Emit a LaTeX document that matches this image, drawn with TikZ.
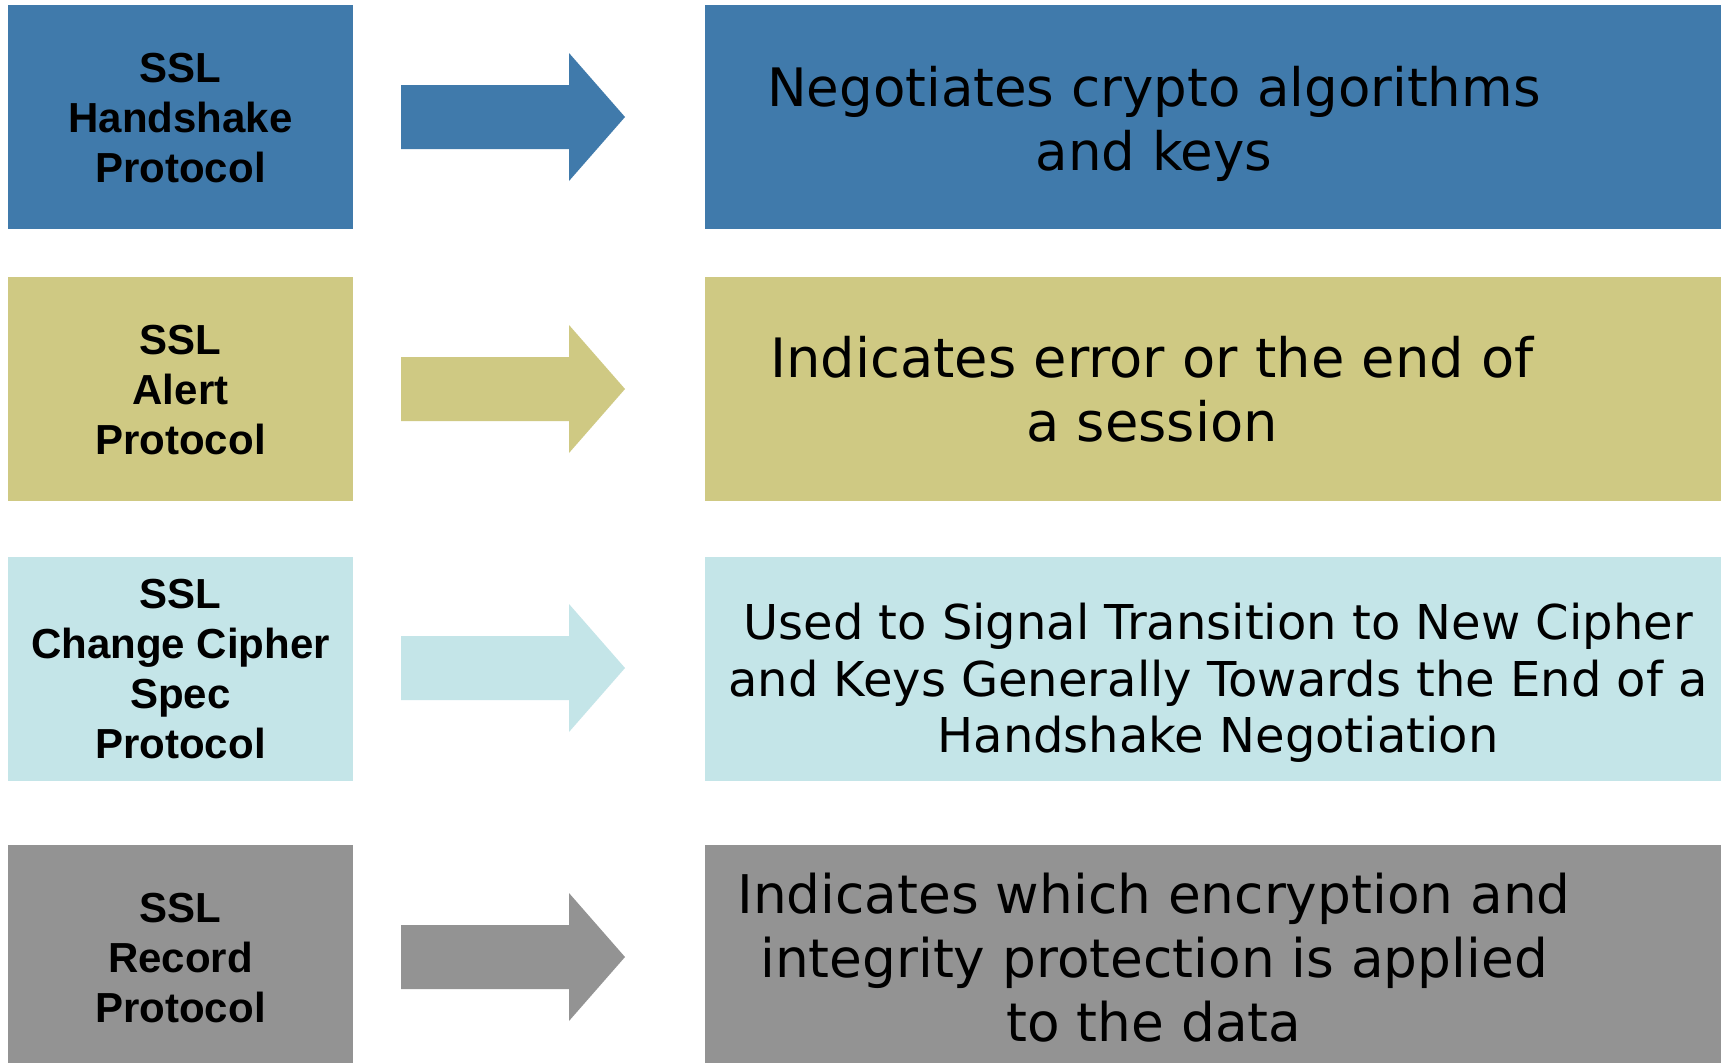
\documentclass[tikz,border=0pt]{standalone}
\usepackage{fontspec}
\newfontfamily\protofont{Liberation Sans}
\newfontfamily\descfont{DejaVu Sans}

\definecolor{hsblue}{RGB}{64,122,171}
\definecolor{alertolive}{RGB}{207,201,131}
\definecolor{ccscyan}{RGB}{196,229,232}
\definecolor{recgray}{RGB}{147,147,147}

\tikzset{
  protobox/.style={fill=#1, draw=none, inner sep=0pt, outer sep=0pt,
    minimum width=345pt, minimum height=224pt},
  descbox/.style={fill=#1, draw=none, inner sep=0pt, outer sep=0pt,
    minimum width=1016pt, minimum height=224pt},
  prototext/.style={font=\protofont\bfseries\fontsize{42}{50}\selectfont,
    align=center, inner sep=0pt},
  desctext/.style 2 args={font=\descfont\fontsize{#1}{#2}\selectfont,
    align=center, inner sep=0pt},
  % wide block arrow pointing right, anchored at the middle of its tail
  blockarrow/.pic={
    \fill (0,-32) -- (168,-32) -- (168,-64) -- (224,0) -- (168,64)
          -- (168,32) -- (0,32) -- cycle;
  }
}

\begin{document}
\begin{tikzpicture}[x=1pt,y=-1pt]
\useasboundingbox[fill=white] (0,0) rectangle (1727,1063);

% Handshake
\node[protobox=hsblue] (hsbox) at (180.5,117) {};
\node[prototext] (hslabel) at (180.5,118) {SSL\\Handshake\\Protocol};
\pic[fill=hsblue] (hsarrow) at (401,117) {blockarrow};
\node[descbox=hsblue] (hsdescbox) at (1213,117) {};
\node[desctext={53}{64}] (hsdesc) at (1154,124)
  {Negotiates crypto algorithms\\and keys};

% Alert
\node[protobox=alertolive] (albox) at (180.5,389) {};
\node[prototext] (allabel) at (180.5,390) {SSL\\Alert\\Protocol};
\pic[fill=alertolive] (alarrow) at (401,389) {blockarrow};
\node[descbox=alertolive] (aldescbox) at (1213,389) {};
\node[desctext={54.3}{64}] (aldesc) at (1152,389.5)
  {Indicates error or the end of\\a session};

% Change Cipher Spec
\node[protobox=ccscyan] (ccsbox) at (180.5,669) {};
\node[prototext] (ccslabel) at (180.5,669) {SSL\\Change Cipher\\Spec\\Protocol};
\pic[fill=ccscyan] (ccsarrow) at (401,668) {blockarrow};
\node[descbox=ccscyan] (ccsdescbox) at (1213,669) {};
\node[desctext={48}{56.5}] (ccsdesc) at (1218,683)
  {Used to Signal Transition to New Cipher\\and Keys Generally Towards the End of a\\Handshake Negotiation};

% Record
\node[protobox=recgray, minimum height=218pt] (recbox) at (180.5,954) {};
\node[prototext] (reclabel) at (180.5,958) {SSL\\Record\\Protocol};
\pic[fill=recgray] (recarrow) at (401,957) {blockarrow};
\node[descbox=recgray, minimum height=218pt] (recdescbox) at (1213,954) {};
\node[desctext={53.3}{64}] (recdesc) at (1154,958)
  {Indicates which encryption and\\integrity protection is applied\\to the data};
\end{tikzpicture}
\end{document}
